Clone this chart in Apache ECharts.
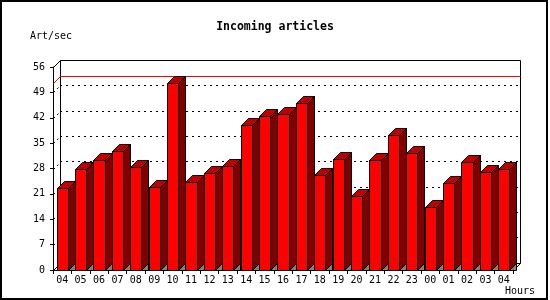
<!DOCTYPE html>
<html><head><meta charset="utf-8">
<script src="https://cdn.jsdelivr.net/npm/echarts@6/dist/echarts.min.js"></script>
<style>html,body{margin:0;padding:0;background:#fff}#c{width:550px;height:300px}</style>
</head><body><div id="c"></div>
<script>
// ---- data ----
var hours = ['04','05','06','07','08','09','10','11','12','13','14','15','16','17','18','19','20','21','22','23','00','01','02','03','04'];
var artPerSec = [22.6, 28.0, 30.3, 32.8, 28.3, 22.8, 51.5, 24.2, 26.7, 28.6, 39.9, 42.4, 43.0, 46.0, 26.1, 30.5, 20.3, 30.3, 37.2, 32.2, 17.5, 23.9, 29.8, 27.0, 28.0];
var yMin = 0, yMax = 56, yStep = 7;
var chartTitle = 'Incoming articles';
var yName = 'Art/sec';
var xName = 'Hours';

// ---- style / layout ----
var D = 7;               // 3D depth in px
var FONT = 'DejaVu Sans Mono';
var G = {left: 53, top: 67, right: 37, bottom: 30};
function px(v){ return Math.round(v) + 0.5; }

var chart = echarts.init(document.getElementById('c'), null, {renderer: 'canvas'});

function poly(points, fill){
  return {type: 'polygon', shape: {points: points}, style: {fill: fill, stroke: '#000', lineWidth: 1}};
}
function seg(a, b, stroke, dash){
  var st = {stroke: stroke, lineWidth: 1};
  if (dash) st.lineDash = dash;
  return {type: 'line', shape: {x1: a[0], y1: a[1], x2: b[0], y2: b[1]}, style: st};
}

function renderBar(params, api){
  var i = api.value(0), v = api.value(1);
  var t = api.coord([i, v]);
  var b = api.coord([i, 0]);
  var bw = api.size([1, 0])[0] * 0.615;
  var x0 = px(t[0] - bw / 2), x1 = px(t[0] + bw / 2);
  var yt = px(t[1]), yb = px(b[1]);
  return {type: 'group', children: [
    poly([[x1, yb], [x1 + D, yb - D], [x1 + D, yb]], '#808080'),
    poly([[x1, yt], [x1 + D, yt - D], [x1 + D, yb - D], [x1, yb]], '#800000'),
    poly([[x0, yt], [x1, yt], [x1 + D, yt - D], [x0 + D, yt - D]], '#c00000'),
    poly([[x0, yt], [x1, yt], [x1, yb], [x0, yb]], '#ff0000')
  ]};
}

function renderFrame(params, api){
  var cs = params.coordSys;
  var x = px(cs.x), y = px(cs.y), r = px(cs.x + cs.width), bt = px(cs.y + cs.height);
  var k = '#000';
  var ch = [
    seg([x + D, y - D], [r + D, y - D], k),
    seg([x + D, y - D], [x + D, bt - D], k),
    seg([r + D, y - D], [r + D, bt - D], k),
    seg([x + D, bt - D], [r + D, bt - D], k),
    seg([x, y], [x + D, y - D], k),
    seg([x, bt], [x + D, bt - D], k),
    seg([r, bt], [r + D, bt - D], k)
  ];
  for (var v = yMin + yStep; v < yMax; v += yStep) {
    var yy = px(api.coord([0, v])[1]);
    ch.push(seg([x, yy], [x + D, yy - D], k, [2, 3]));
  }
  var maxV = Math.max.apply(null, artPerSec);
  var ym = px(api.coord([0, maxV])[1]);
  ch.push(seg([x, ym], [x + D, ym - D], '#ff0000'));
  ch.push(seg([x + D, ym - D], [r + D, ym - D], '#ff0000'));
  return {type: 'group', children: ch};
}

var labelStyle = {fontFamily: FONT, fontSize: 10, color: '#000'};

chart.setOption({
  animation: false,
  backgroundColor: '#fff',
  title: {text: chartTitle, left: 'center', top: 21, padding: 0,
    textStyle: {fontFamily: FONT, fontWeight: 'bold', fontSize: 11.5, color: '#000'}},
  grid: [
    {left: G.left, top: G.top, right: G.right, bottom: G.bottom},
    {left: G.left + D, top: G.top - D, right: G.right - D, bottom: G.bottom + D}
  ],
  xAxis: [
    {type: 'category', gridIndex: 0, data: hours, boundaryGap: true,
     axisLine: {show: true, lineStyle: {color: '#000', width: 1}},
     axisTick: {show: true, length: 4, alignWithLabel: false, lineStyle: {color: '#000'}},
     axisLabel: Object.assign({margin: 5, interval: 0}, labelStyle),
     splitLine: {show: false}},
    {type: 'category', gridIndex: 1, data: hours, show: false}
  ],
  yAxis: [
    {type: 'value', gridIndex: 0, min: yMin, max: yMax, interval: yStep,
     axisLine: {show: true, lineStyle: {color: '#000', width: 1}},
     axisTick: {show: true, length: 3, lineStyle: {color: '#000'}},
     axisLabel: Object.assign({margin: 8}, labelStyle),
     splitLine: {show: false}},
    {type: 'value', gridIndex: 1, min: yMin, max: yMax, interval: yStep,
     axisLine: {show: false}, axisTick: {show: false}, axisLabel: {show: false},
     splitLine: {show: true, showMinLine: false, showMaxLine: false,
       lineStyle: {color: '#000', width: 1, type: [2, 4]}}}
  ],
  graphic: [
    {type: 'text', x: 30, y: 31, style: {text: yName, font: '10px "DejaVu Sans Mono"', fill: '#000'}},
    {type: 'text', x: 505, y: 286, style: {text: xName, font: '10px "DejaVu Sans Mono"', fill: '#000'}},
    {type: 'rect', shape: {x: 1, y: 1, width: 546, height: 298}, style: {fill: 'none', stroke: '#000', lineWidth: 2}, z: 100}
  ],
  series: [
    {type: 'custom', name: 'frame', xAxisIndex: 0, yAxisIndex: 0, z: 1, silent: true,
     data: [[0, 0]], renderItem: renderFrame},
    {type: 'custom', name: 'Art/sec', xAxisIndex: 0, yAxisIndex: 0, z: 3, silent: true,
     data: artPerSec.map(function(v, i){ return [i, v]; }), renderItem: renderBar}
  ]
});
</script>
</body></html>
